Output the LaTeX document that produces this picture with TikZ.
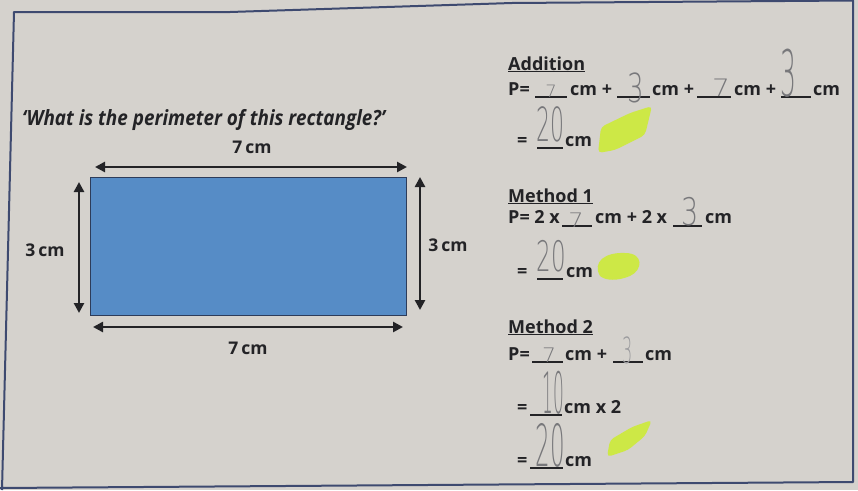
\documentclass[tikz,border=0pt]{standalone}
\usepackage{fontspec}
\setmainfont{Open Sans}
\IfFontExistsTF{DejaVuSans-ExtraLight.ttf}
  {\newfontfamily\handfont{DejaVuSans-ExtraLight.ttf}}
  {\IfFontExistsTF{DejaVu Sans ExtraLight}
     {\newfontfamily\handfont{DejaVu Sans ExtraLight}}
     {\newfontfamily\handfont{Open Sans}}}
\usetikzlibrary{arrows.meta}
\definecolor{paper}{RGB}{213,210,205}
\definecolor{frame}{RGB}{62,74,112}
\definecolor{ink}{RGB}{35,35,38}
\definecolor{pencil}{RGB}{120,120,123}
\definecolor{faint}{RGB}{155,155,158}
\definecolor{boxblue}{RGB}{86,140,198}
\definecolor{boxedge}{RGB}{45,60,90}
\definecolor{hilite}{RGB}{205,232,70}
\begin{document}
\begin{tikzpicture}[x=1pt,y=-1pt,
  lab/.style={font=\bfseries\fontsize{17.5}{18}\selectfont, text=ink, inner sep=0, anchor=base},
  eq/.style={font=\bfseries\fontsize{18}{18}\selectfont, text=ink, inner sep=0, anchor=base west},
  hand/.style={font=\handfont\fontsize{20}{20}\selectfont, text=pencil, inner sep=0, anchor=base},
  blankline/.style={draw=ink, line width=1.3pt},
  dimarrow/.style={draw=ink, line width=2.6pt, {Triangle[length=10pt,width=10pt]}-{Triangle[length=10pt,width=10pt]}},
  blob/.style={fill=hilite, draw=none, rounded corners=4pt}]
\useasboundingbox (0,0) rectangle (858,490);
\fill[paper] (0,0) rectangle (858,490);
% frame of the sheet
\draw[frame, line width=2pt, line join=round] (2,490) -- (14,12) -- (230,12) -- (512,3) -- (853,0.5) -- (853,482) -- (0,488);

% ---------- left: rectangle ----------
\node[font=\bfseries\itshape\fontsize{21}{21}\selectfont, text=ink, inner sep=0, anchor=base west] (q) at (22,125) {\resizebox{363pt}{\height}{‘What is the perimeter of this rectangle?’}};
\node[rectangle, fill=boxblue, draw=boxedge, line width=1pt, minimum width=316pt, minimum height=138pt, inner sep=0] (rect) at (248,246) {};
\coordinate (t1) at (95,167);  \coordinate (t2) at (407,167);
\coordinate (b1) at (93,327);  \coordinate (b2) at (403,327);
\coordinate (l1) at (79,182);  \coordinate (l2) at (79,313);
\coordinate (r1) at (420,177); \coordinate (r2) at (420,310);
\draw[dimarrow] (t1) -- (t2);
\draw[dimarrow] (b1) -- (b2);
\draw[dimarrow] (l1) -- (l2);
\draw[dimarrow] (r1) -- (r2);
\node[lab] (ltop) at (252,153) {7\,cm};
\node[lab] (lbot) at (248,354) {7\,cm};
\node[lab] (lleft) at (45,256) {3\,cm};
\node[lab] (lright) at (448,251) {3\,cm};

% ---------- Addition ----------
\node[eq] (h1) at (508,70) {\underline{Addition}};
\node[eq] (a0) at (508,95) {P=};
\draw[blankline] (535,97) -- (567,97);
\node[eq] (a1) at (570,95) {cm +};
\draw[blankline] (617,97) -- (650,97);
\node[eq] (a2) at (652,95) {cm +};
\draw[blankline] (697,97) -- (731,97);
\node[eq] (a3) at (734,95) {cm +};
\draw[blankline] (781,97) -- (811,97);
\node[eq] (a4) at (813,95) {cm};
\node[hand] (ah1) at (551,97) {\scalebox{0.9}[0.85]{7}};
\node[hand] (ah2) at (636,102) {\scalebox{1.3}[2.0]{3}};
\node[hand] (ah3) at (721,96) {\scalebox{1.4}[1.2]{7}};
\node[hand] (ah4) at (788,96) {\scalebox{1.25}[3.2]{3}};
\node[eq] (ae) at (517,146) {=};
\draw[blankline] (537,148) -- (563,148);
\node[eq] (ac) at (565,146) {cm};
\node[hand] (ah5) at (550,141) {\scalebox{1.1}[2.35]{20}};
\fill[blob] (598,153) -- (601,127) -- (630,113) -- (652,106) -- (645,135) -- (615,150) -- cycle;

% ---------- Method 1 ----------
\node[eq] (h2) at (508,202) {\underline{Method 1}};
\node[eq] (m0) at (508,223) {P= 2 x};
\draw[blankline] (562,226) -- (592,226);
\node[eq] (m1) at (595,223) {cm + 2 x};
\draw[blankline] (673,226) -- (702,226);
\node[eq] (m2) at (705,223) {cm};
\node[hand] (mh1) at (576,227) {\scalebox{1.2}[1.0]{7}};
\node[hand] (mh2) at (690,225) {\scalebox{1.35}[1.9]{3}};
\node[eq] (me) at (517,277) {=};
\draw[blankline] (537,279) -- (563,279);
\node[eq] (mc) at (566,277) {cm};
\node[hand] (mh3) at (551,271) {\scalebox{1.15}[2.1]{20}};
\fill[hilite] (600,276) .. controls (592,262) and (605,252) .. (625,253) .. controls (644,253) and (643,270) .. (630,276) .. controls (618,281) and (606,281) .. (600,276) -- cycle;

% ---------- Method 2 ----------
\node[eq] (h3) at (508,333) {\underline{Method 2}};
\node[eq] (n0) at (508,360) {P=};
\draw[blankline] (532,362) -- (563,362);
\node[eq] (n1) at (565,360) {cm +};
\draw[blankline] (613,362) -- (643,362);
\node[eq] (n2) at (645,360) {cm};
\node[hand] (nh1) at (549,362) {\scalebox{1.1}[1.0]{7}};
\node[hand, text=faint] (nh2) at (628,363) {\scalebox{0.8}[1.8]{3}};
\node[eq] (ne1) at (517,413) {=};
\draw[blankline] (530,415) -- (562,415);
\node[eq] (nc1) at (564,413) {cm x 2};
\node[hand] (nh3) at (553,413) {\scalebox{0.85}[2.85]{10}};
\node[eq] (ne2) at (517,466) {=};
\draw[blankline] (530,468) -- (563,468);
\node[eq] (nc2) at (565,466) {cm};
\node[hand] (nh4) at (550,466) {\scalebox{1.15}[2.9]{20}};
\fill[blob] (607,457) -- (610,440) -- (632,427) -- (652,420) -- (645,436) -- (628,450) -- cycle;
\end{tikzpicture}
\end{document}
